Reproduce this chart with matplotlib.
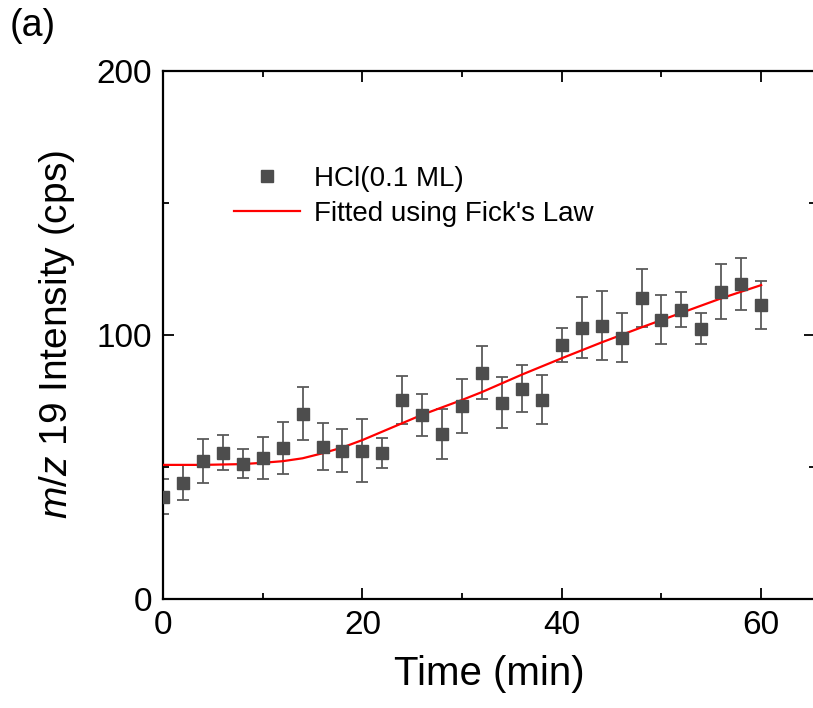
import matplotlib
matplotlib.use("Agg")
import matplotlib.pyplot as plt
from matplotlib.lines import Line2D
import numpy as np

plt.rcParams['font.family'] = ['Liberation Sans', 'DejaVu Sans']
plt.rcParams['mathtext.fontset'] = 'custom'
plt.rcParams['mathtext.it'] = 'Liberation Sans:italic'
plt.rcParams['mathtext.rm'] = 'Liberation Sans'

# data
time_min = [0, 2, 4, 6, 8, 10, 12, 14, 16, 18, 20, 22, 24, 26, 28, 30,
            32, 34, 36, 38, 40, 42, 44, 46, 48, 50, 52, 54, 56, 58, 60]
intensity = [38.7, 44.1, 52.4, 55.4, 51.3, 53.5, 57.3, 70.2, 57.7, 56.2, 56.2,
             55.4, 75.4, 69.8, 62.6, 73.2, 85.7, 74.4, 79.7, 75.5, 96.3, 102.8,
             103.5, 99.0, 114.1, 105.8, 109.6, 102.4, 116.4, 119.4, 111.5]
intensity_err = [6.6, 6.6, 8.3, 6.7, 5.6, 8.0, 9.8, 10.0, 9.0, 8.2, 11.9,
                 5.7, 9.2, 7.9, 9.5, 10.3, 10.0, 9.6, 9.0, 9.3, 6.4, 11.6,
                 13.0, 9.4, 11.0, 9.3, 6.7, 5.9, 10.5, 9.9, 9.1]

fit_time = [0, 4, 8, 10, 12, 14, 16, 18, 20, 22, 24, 26, 28, 30, 32, 36,
            40, 44, 48, 52, 56, 60]
fit_intensity = [50.8, 50.8, 51.1, 51.6, 52.2, 53.3, 55.2, 57.4, 60.2, 63.4,
                 66.6, 69.8, 72.6, 75.4, 78.4, 85.0, 91.2, 97.2, 102.9, 108.4,
                 113.9, 118.9]

series_label = "HCl(0.1 ML)"
fit_label = "Fitted using Fick's Law"

fig = plt.figure(figsize=(8.13, 7.08), dpi=100)
ax = fig.add_axes([163/813, 1-599/708, 652/813, (599-71)/708])

ax.errorbar(time_min, intensity, yerr=intensity_err, fmt='none',
            ecolor='#5a5a5a', elinewidth=1.3, capsize=4, capthick=1.3, zorder=2)
ax.plot(fit_time, fit_intensity, color='#ff0000', lw=1.6, zorder=3)
ax.plot(time_min, intensity, ls='none', marker='s', ms=8.5,
        color='#4d4d4d', zorder=4)

ax.set_xlim(0, 65.4)
ax.set_ylim(0, 200)
ax.set_xticks([0, 20, 40, 60])
ax.set_xticks([10, 30, 50], minor=True)
ax.set_yticks([0, 100, 200])
ax.set_yticks([50, 150], minor=True)
ax.tick_params(which='both', direction='in', top=True, right=True,
               width=1.3, labelsize=24, pad=8)
ax.tick_params(which='major', length=8)
ax.tick_params(which='minor', length=4)
for s in ax.spines.values():
    s.set_linewidth(1.6)

ax.set_xlabel('Time (min)', fontsize=29, labelpad=10)
ax.set_ylabel(r'$m/z$ 19 Intensity (cps)', fontsize=28, labelpad=14)

handles = [Line2D([], [], ls='none', marker='s', ms=8.5, color='#4d4d4d'),
           Line2D([], [], color='#ff0000', lw=1.6)]
ax.legend(handles, [series_label, fit_label], loc='upper left',
          bbox_to_anchor=(0.07, 0.868), frameon=False, fontsize=20,
          handlelength=2.4, labelspacing=0.33, handletextpad=0.5)

fig.text(0.012, 0.988, '(a)', fontsize=27, va='top', ha='left')

fig.savefig('out.png', dpi=100)
